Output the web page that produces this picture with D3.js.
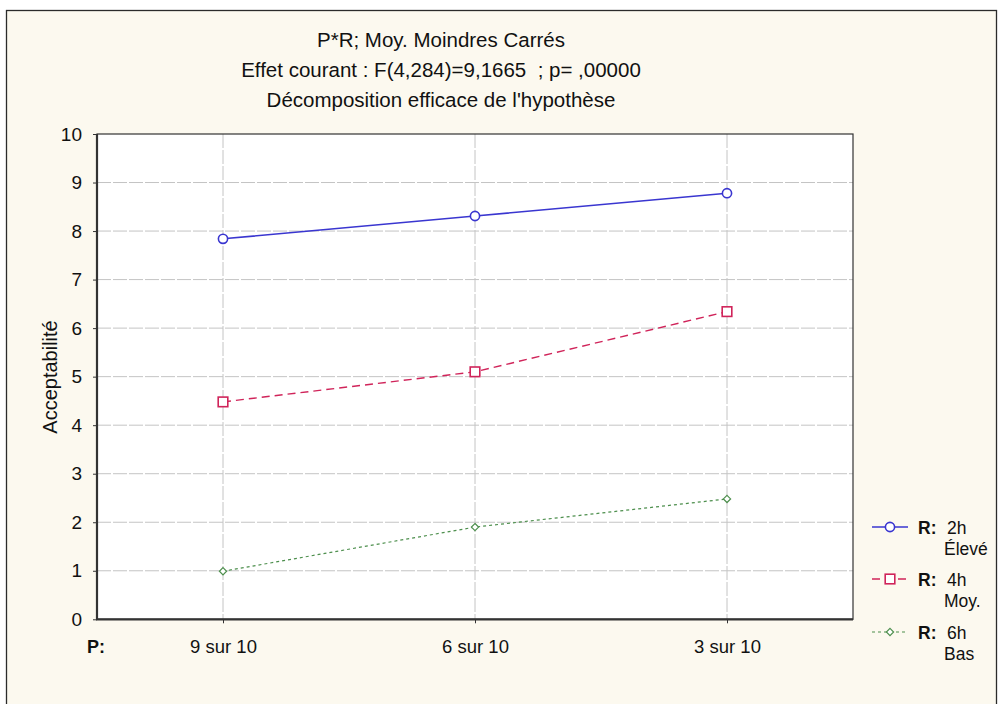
<!DOCTYPE html>
<html>
<head>
<meta charset="utf-8">
<script src="https://cdn.jsdelivr.net/npm/d3@7/dist/d3.min.js"></script>
<style>
  html, body { margin: 0; padding: 0; background: #ffffff; }
  svg { display: block; font-family: "Liberation Sans", Arial, sans-serif; }
  .pre { white-space: pre; }
</style>
</head>
<body>
<svg id="chart" width="998" height="704"></svg>
<script>
// ---- data ----
const categories = ["9 sur 10", "6 sur 10", "3 sur 10"];
const seriesNames = ["2h", "4h", "6h"];
const seriesSubLabels = ["Élevé", "Moy.", "Bas"];
const values2h = [7.84, 8.31, 8.78];
const values4h = [4.48, 5.10, 6.34];
const values6h = [0.99, 1.90, 2.48];
const yTicks = [0, 1, 2, 3, 4, 5, 6, 7, 8, 9, 10];
const titleLines = [
  "P*R; Moy. Moindres Carrés",
  "Effet courant : F(4,284)=9,1665  ; p= ,00000",
  "Décomposition efficace de l'hypothèse"
];
const yLabel = "Acceptabilité";
const xFactorLabel = "P:";
const legendFactorLabel = "R:";

// ---- layout / styles ----
const svg = d3.select("#chart");
const plot = { left: 97, right: 853, top: 134, bottom: 619.3 };
const styles = [
  { color: "#3a36d0", dash: null, width: 1.6, shape: "circle" },
  { color: "#d0245a", dash: "8,5", width: 1.4, shape: "square" },
  { color: "#4d8f4d", dash: "3,3", width: 1.2, shape: "diamond" }
];
const allSeries = [values2h, values4h, values6h];
const FONT = "Liberation Sans, Arial, sans-serif";

// background frame
svg.append("rect").attr("x", 6.5).attr("y", 10.5).attr("width", 990).attr("height", 700)
  .attr("fill", "#fcf9ef").attr("stroke", "#2b2b2b").attr("stroke-width", 1.3);

const x = d3.scalePoint().domain(categories).range([plot.left, plot.right]).padding(0.5);
const y = d3.scaleLinear().domain([0, 10]).range([plot.bottom, plot.top]);

// plot area
svg.append("rect").attr("x", plot.left).attr("y", plot.top)
  .attr("width", plot.right - plot.left).attr("height", plot.bottom - plot.top)
  .attr("fill", "#ffffff");

// gridlines
const grid = svg.append("g");
grid.selectAll("line.h").data(yTicks.filter(d => d > 0 && d < 10)).enter().append("line")
  .attr("x1", plot.left).attr("x2", plot.right)
  .attr("y1", d => y(d)).attr("y2", d => y(d))
  .attr("stroke", "#c4c4c4").attr("stroke-width", 1).attr("stroke-dasharray", "14,2");
grid.selectAll("line.v").data(categories).enter().append("line")
  .attr("x1", d => x(d)).attr("x2", d => x(d))
  .attr("y1", plot.top).attr("y2", plot.bottom)
  .attr("stroke", "#c4c4c4").attr("stroke-width", 1).attr("stroke-dasharray", "14,2");

// axes
const yAxis = d3.axisLeft(y).tickValues(yTicks).tickSize(4).tickPadding(11).tickFormat(d3.format("d"));
const gy = svg.append("g").attr("transform", `translate(${plot.left},0)`).call(yAxis);
gy.select(".domain").remove();
gy.selectAll("line").attr("stroke", "#333");
gy.selectAll("text").attr("font-size", 19).attr("fill", "#111").attr("font-family", FONT);

const xAxis = d3.axisBottom(x).tickSize(4).tickPadding(17);
const gx = svg.append("g").attr("transform", `translate(0,${plot.bottom})`).call(xAxis);
gx.select(".domain").remove();
gx.selectAll("line").attr("stroke", "#333");
gx.selectAll("text").attr("font-size", 18.5).attr("fill", "#111").attr("font-family", FONT);

// plot border
svg.append("rect").attr("x", plot.left).attr("y", plot.top)
  .attr("width", plot.right - plot.left).attr("height", plot.bottom - plot.top)
  .attr("fill", "none").attr("stroke", "#333").attr("stroke-width", 1.2);
svg.append("line").attr("x1", plot.left).attr("x2", plot.left).attr("y1", plot.top).attr("y2", plot.bottom)
  .attr("stroke", "#333").attr("stroke-width", 2.2);
svg.append("line").attr("x1", plot.left - 1).attr("x2", plot.right).attr("y1", plot.bottom).attr("y2", plot.bottom)
  .attr("stroke", "#333").attr("stroke-width", 2.2);

// marker drawing
function drawMarker(g, shape, cx, cy, color) {
  if (shape === "circle") {
    g.append("circle").attr("cx", cx).attr("cy", cy).attr("r", 4.6)
      .attr("fill", "#fff").attr("stroke", color).attr("stroke-width", 1.6);
  } else if (shape === "square") {
    g.append("rect").attr("x", cx - 4.8).attr("y", cy - 4.8).attr("width", 9.6).attr("height", 9.6)
      .attr("fill", "#fff").attr("stroke", color).attr("stroke-width", 1.6);
  } else {
    const s = 3.6;
    g.append("path").attr("d", `M${cx},${cy - s}L${cx + s},${cy}L${cx},${cy + s}L${cx - s},${cy}Z`)
      .attr("fill", "#fff").attr("stroke", color).attr("stroke-width", 1.2);
  }
}

// series
const line = d3.line().x((d, i) => x(categories[i])).y(d => y(d));
allSeries.forEach((vals, si) => {
  const st = styles[si];
  const g = svg.append("g");
  g.append("path").datum(vals).attr("d", line)
    .attr("fill", "none").attr("stroke", st.color).attr("stroke-width", st.width)
    .attr("stroke-dasharray", st.dash);
  vals.forEach((v, i) => drawMarker(g, st.shape, x(categories[i]), y(v), st.color));
});

// titles
svg.append("g").selectAll("text").data(titleLines).enter().append("text")
  .attr("class", "pre")
  .attr("x", 441).attr("y", (d, i) => 47 + i * 30)
  .attr("text-anchor", "middle").attr("font-size", 20.5).attr("fill", "#111")
  .text(d => d);

// y label
svg.append("text").attr("transform", `translate(57,377) rotate(-90)`)
  .attr("text-anchor", "middle").attr("font-size", 20).attr("fill", "#111").text(yLabel);

// P: label
svg.append("text").attr("x", 87).attr("y", 653).attr("font-size", 18).attr("font-weight", "bold")
  .attr("fill", "#111").text(xFactorLabel);

// legend
const legendRowsY = [527, 579, 632];
seriesNames.forEach((name, si) => {
  const st = styles[si];
  const ly = legendRowsY[si];
  const g = svg.append("g");
  g.append("line").attr("x1", 872).attr("x2", 908).attr("y1", ly).attr("y2", ly)
    .attr("stroke", st.color).attr("stroke-width", st.width).attr("stroke-dasharray", st.dash);
  drawMarker(g, st.shape, 890, ly, st.color);
  g.append("text").attr("x", 918).attr("y", ly + 6.5).attr("font-size", 17.5).attr("font-weight", "bold")
    .attr("fill", "#111").text(legendFactorLabel);
  g.append("text").attr("x", 947).attr("y", ly + 6.5).attr("font-size", 17.5).attr("fill", "#111").text(name);
  g.append("text").attr("x", 944).attr("y", ly + 28).attr("font-size", 17.5).attr("fill", "#111").text(seriesSubLabels[si]);
});
</script>
</body>
</html>
